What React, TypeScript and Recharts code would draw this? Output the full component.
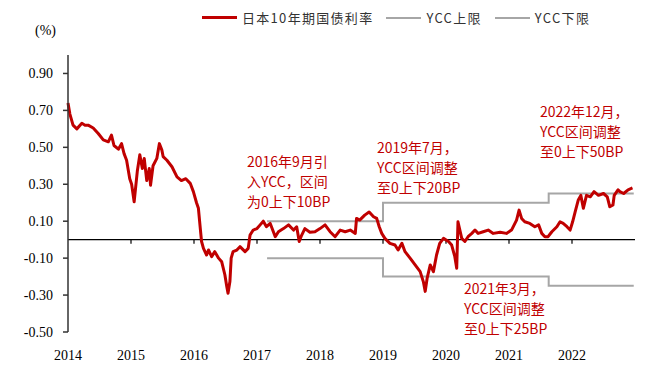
import React from 'react';
import { LineChart, Line, XAxis, YAxis, ReferenceLine } from 'recharts';

// fractional year of each reading
const dates = [
  2014.0, 2014.03, 2014.08, 2014.14, 2014.22, 2014.27, 2014.32, 2014.4, 2014.48, 2014.56,
  2014.64, 2014.69, 2014.73, 2014.8, 2014.85, 2014.89, 2014.93, 2014.98, 2015.01, 2015.05,
  2015.1, 2015.14, 2015.18, 2015.21, 2015.25, 2015.29, 2015.31, 2015.35, 2015.41, 2015.45,
  2015.49, 2015.51, 2015.57, 2015.65, 2015.73, 2015.8, 2015.87, 2015.94, 2015.99, 2016.04,
  2016.07, 2016.1, 2016.12, 2016.15, 2016.2, 2016.23, 2016.28, 2016.33, 2016.39, 2016.44,
  2016.49, 2016.52, 2016.54, 2016.57, 2016.59, 2016.62, 2016.68, 2016.73, 2016.81, 2016.86,
  2016.89, 2016.94, 2017.0, 2017.05, 2017.1, 2017.15, 2017.21, 2017.29, 2017.34, 2017.42,
  2017.5, 2017.58, 2017.63, 2017.67, 2017.71, 2017.76, 2017.84, 2017.92, 2018.0, 2018.08,
  2018.16, 2018.24, 2018.32, 2018.4, 2018.48, 2018.56, 2018.58, 2018.63, 2018.71, 2018.78,
  2018.85, 2018.9, 2018.94, 2018.98, 2019.03, 2019.11, 2019.19, 2019.24, 2019.3, 2019.35,
  2019.43, 2019.51, 2019.59, 2019.64, 2019.67, 2019.7, 2019.75, 2019.8, 2019.85, 2019.9,
  2019.96, 2020.04, 2020.09, 2020.14, 2020.17, 2020.19, 2020.25, 2020.3, 2020.35, 2020.41,
  2020.46, 2020.51, 2020.59, 2020.67, 2020.75, 2020.86, 2020.96, 2021.04, 2021.12, 2021.16,
  2021.2, 2021.25, 2021.33, 2021.41, 2021.47, 2021.52, 2021.57, 2021.62, 2021.68, 2021.76,
  2021.81, 2021.86, 2021.92, 2021.97, 2022.01, 2022.05, 2022.1, 2022.14, 2022.18, 2022.23,
  2022.29, 2022.35, 2022.42, 2022.5, 2022.56, 2022.6, 2022.65, 2022.67, 2022.73, 2022.76,
  2022.82, 2022.89, 2022.96,
];

// 日本10年期国债利率 (%)
const jgb10y = [
  0.74, 0.68, 0.62, 0.6, 0.63, 0.62, 0.62, 0.605, 0.575, 0.54,
  0.53, 0.566, 0.51, 0.49, 0.52, 0.466, 0.43, 0.33, 0.3, 0.205,
  0.37, 0.46, 0.385, 0.44, 0.32, 0.385, 0.295, 0.4, 0.44, 0.52,
  0.485, 0.45, 0.43, 0.395, 0.34, 0.32, 0.33, 0.305, 0.26, 0.2,
  0.17, 0.06, -0.01, -0.047, -0.083, -0.056, -0.092, -0.065, -0.1, -0.12,
  -0.19, -0.254, -0.29, -0.227, -0.1, -0.065, -0.056, -0.038, -0.065, -0.047,
  0.025, 0.052, 0.06, 0.08, 0.1, 0.07, 0.088, 0.016, 0.043, 0.06,
  0.08, 0.052, 0.07, -0.01, 0.025, 0.06, 0.04, 0.043, 0.06, 0.08,
  0.043, 0.016, 0.052, 0.043, 0.052, 0.034, 0.115, 0.106, 0.133, 0.15,
  0.124, 0.115, 0.07, 0.034, 0.007, -0.02, -0.029, -0.056, -0.02, -0.065,
  -0.1, -0.137, -0.173, -0.227, -0.28, -0.21, -0.137, -0.173, -0.083, -0.02,
  0.007, -0.01, -0.029, -0.092, -0.155, 0.097, 0.007, -0.01, 0.016, 0.034,
  0.052, 0.034, 0.043, 0.052, 0.034, 0.04, 0.034, 0.052, 0.106, 0.16,
  0.115, 0.097, 0.088, 0.07, 0.08, 0.034, 0.016, 0.016, 0.043, 0.07,
  0.097, 0.088, 0.07, 0.052, 0.097, 0.15, 0.215, 0.24, 0.17, 0.24,
  0.232, 0.26, 0.24, 0.25, 0.232, 0.178, 0.188, 0.24, 0.27, 0.26,
  0.25, 0.27, 0.28,
];

// YCC band
const yccDates = [2017.16, 2019.0, 2021.63, 2022.98];
const yccUpper = [0.1, 0.2, 0.25, 0.25];
const yccLower = [-0.1, -0.2, -0.25, -0.25];

const yearTicks = [2014, 2015, 2016, 2017, 2018, 2019, 2020, 2021, 2022];
const yTicks = [-0.5, -0.3, -0.1, 0.1, 0.3, 0.5, 0.7, 0.9];

const RED = '#c00000';
const GRAY = '#a6a6a6';

const jgbData = dates.map((t, i) => ({ t, v: jgb10y[i] }));
const yccData = yccDates.map((t, i) => ({ t, up: yccUpper[i], low: yccLower[i] }));

const legendItems = [
  { name: '日本10年期国债利率', color: RED },
  { name: 'YCC上限', color: GRAY },
  { name: 'YCC下限', color: GRAY },
];

const notes = [
  { left: 247, top: 151, lines: ['2016年9月引', '入YCC，区间', '为0上下10BP'] },
  { left: 377, top: 137, lines: ['2019年7月，', 'YCC区间调整', '至0上下20BP'] },
  { left: 540, top: 101, lines: ['2022年12月，', 'YCC区间调整', '至0上下50BP'] },
  { left: 464, top: 278, lines: ['2021年3月，', 'YCC区间调整', '至0上下25BP'] },
];

const serif = '"Liberation Serif", "Times New Roman", serif';
const cjk = '"Noto Sans CJK SC", sans-serif';

function YearTick({ x, y, payload }: any) {
  return (
    <text x={x} y={y + 20} textAnchor="middle" fontFamily={serif} fontSize={14} fill="#000">
      {payload.value}
    </text>
  );
}

export default function App() {
  return (
    <div style={{ position: 'absolute', left: 0, top: 0, width: 665, height: 369, background: '#fff' }}>
      <LineChart width={665} height={369} margin={{ top: 55, right: 30, left: 0, bottom: 7 }}>
        <XAxis
          dataKey="t"
          type="number"
          domain={[2014, 2023]}
          ticks={yearTicks}
          axisLine={false}
          tickLine={false}
          height={30}
          tick={<YearTick />}
          allowDuplicatedCategory={false}
        />
        <YAxis
          type="number"
          domain={[-0.5, 1.0]}
          ticks={yTicks}
          width={68}
          tickSize={5}
          tickMargin={10}
          tickFormatter={(v: number) => v.toFixed(2)}
          axisLine={{ stroke: '#333', strokeWidth: 1.5 }}
          tickLine={{ stroke: '#333', strokeWidth: 1.5 }}
          tick={{ fontFamily: serif, fontSize: 14, fill: '#000' }}
        />
        <ReferenceLine y={0} stroke="#000" strokeWidth={1.2} />
        {yearTicks.slice(1).map((yr) => (
          <ReferenceLine
            key={yr}
            segment={[{ x: yr, y: 0 }, { x: yr, y: -0.022 }]}
            stroke="#000"
            strokeWidth={1.2}
          />
        ))}
        <Line data={yccData} dataKey="up" type="stepAfter" stroke={GRAY} strokeWidth={2} dot={false} isAnimationActive={false} name="YCC上限" />
        <Line data={yccData} dataKey="low" type="stepAfter" stroke={GRAY} strokeWidth={2} dot={false} isAnimationActive={false} name="YCC下限" />
        <Line data={jgbData} dataKey="v" type="linear" stroke={RED} strokeWidth={3} strokeLinejoin="round" dot={false} isAnimationActive={false} name="日本10年期国债利率" />
      </LineChart>
      <div style={{ position: 'absolute', left: 202, top: 9, display: 'flex', alignItems: 'center', fontFamily: cjk, fontSize: 13, lineHeight: '17px', letterSpacing: 1.3, color: '#333' }}>
        {legendItems.map((it) => (
          <span key={it.name} style={{ display: 'flex', alignItems: 'center', marginRight: 13 }}>
            <span style={{ display: 'inline-block', width: 35, height: 0, borderTop: `${it.color === RED ? 3 : 2}px solid ${it.color}`, marginRight: 5 }} />
            {it.name}
          </span>
        ))}
      </div>
      <div style={{ position: 'absolute', left: 35, top: 23, fontFamily: serif, fontSize: 14, color: '#000' }}>(%)</div>
      {notes.map((n) => (
        <div
          key={n.lines[0]}
          style={{ position: 'absolute', left: n.left, top: n.top, fontFamily: cjk, fontSize: 14, lineHeight: '20px', color: RED, whiteSpace: 'nowrap' }}
        >
          {n.lines.map((l) => (
            <div key={l}>{l}</div>
          ))}
        </div>
      ))}
    </div>
  );
}
